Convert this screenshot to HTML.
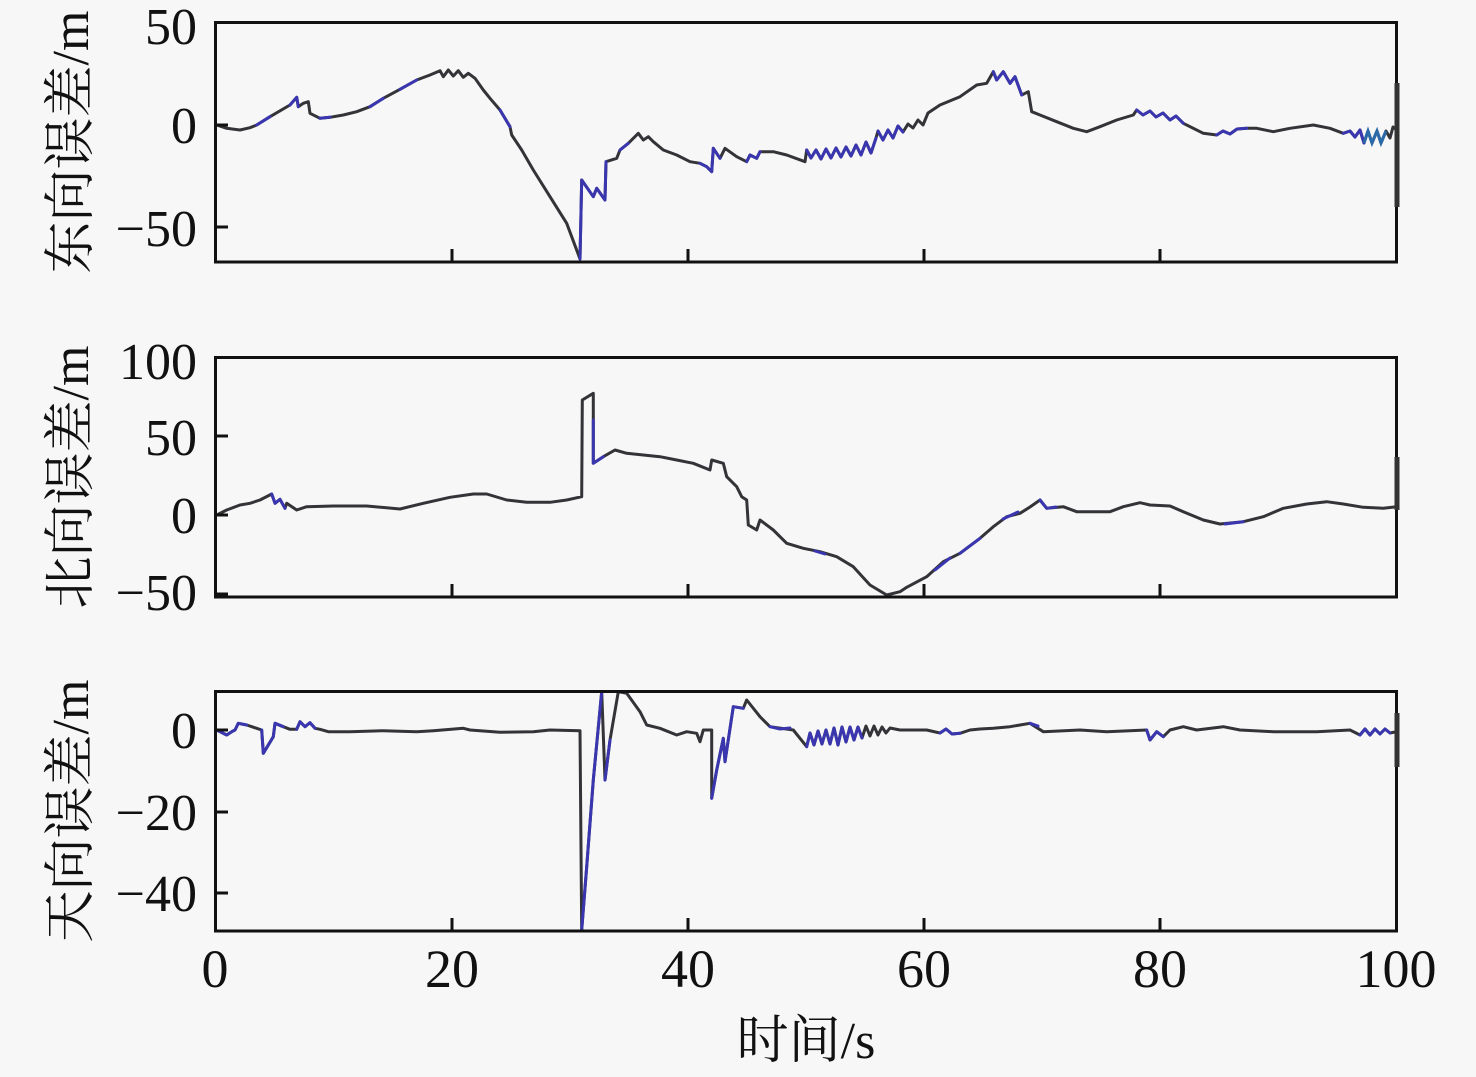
<!DOCTYPE html>
<html>
<head>
<meta charset="utf-8">
<style>
html,body{margin:0;padding:0;background:#f7f7f7;}
svg{display:block;}
.tk{font-family:"Liberation Serif","Noto Serif CJK SC",serif;font-size:52px;fill:#111;}
.xt{font-family:"Liberation Serif","Noto Serif CJK SC",serif;font-size:54px;fill:#111;}
.lab{font-family:"Liberation Serif","Noto Serif CJK SC","Noto Sans CJK SC",serif;font-size:52px;fill:#111;}
.d{fill:none;stroke:#333338;stroke-width:3;stroke-linejoin:round;stroke-linecap:round;}
.b{fill:none;stroke:#3a36b0;stroke-width:3;stroke-linejoin:round;stroke-linecap:round;}
</style>
</head>
<body>
<svg width="1476" height="1077" viewBox="0 0 1476 1077" xmlns="http://www.w3.org/2000/svg">
<rect width="1476" height="1077" fill="#f7f7f7"/>

<!-- ===== Plot 1 ===== -->
<polyline class="d" points="216.7,125 226.7,128.3 240,130 250,127.7 256.7,125 270,116.7 290,105 296.7,97.3 298.3,106.7 303.3,103.3 308.3,101.7 310,113.3 320,118.3 330,117.3 343.3,115 356.7,111.7 370,106.7 383.3,98.3 400,89.3 416.7,80 430,75 440,70.7 443.3,76.7 448.3,70 453.3,76 458.3,70.7 463.3,77.3 468.3,73.3 475,78.3 483.3,90 490,98.3 500,110 510,126.7 511.7,135 521.7,150 533.3,170 550,196.7 566.7,223.3 580,259 581.7,180 593.3,196.7 596.7,188.3 605,200 606,161.7 616.7,158.3 620,150 628.3,143.3 638.3,133.3 643.3,140 648.3,136.7 653.3,141.7 663.3,150 676.7,155 690,161.7 700,163.3 706.7,166.7 711.7,171.7 713.3,148.3 720,158.3 725,148.3 736.7,156.7 746.7,161.7 750,155 756.7,158.3 760,151.7 773.3,151.7 786.7,155 805,161.7 806.7,150 811,158 816,150 821,159 826,149 831,158 836,148 841,157 846,147 851,156 856,145 861,155 866,142 871,153 876,138 878,131 883,140 888,130 893,138 898,126 903,132 908,124 913,128 918,120 923,125 928,113 940,105 960,96.7 976.7,85 986.7,83.3 993.3,71.7 996.7,80 1003.3,71.7 1010,83.3 1015,76.7 1021.7,95 1028.3,91.7 1031.7,111.7 1040,115 1056.7,121.7 1073.3,128.3 1086.7,131.7 1100,126.7 1116.7,120 1133.3,115 1136.7,110 1143,115 1150,111 1156,117 1163,113 1170,120 1176,116 1183.3,123.3 1203.3,133.3 1216.7,135 1223,131 1230,134 1237,129 1246.7,128.3 1256.7,128.3 1273.3,131.7 1290,128.3 1313.3,125 1330,128.3 1343.3,133.3 1350,131 1355,137 1360,130 1364,143 1368,131 1372,143 1377,131 1381,143 1386,131 1390,138 1393,127 1397,130"/>
<polyline class="b" points="256.7,125 270,116.7"/>
<polyline class="b" points="290,105 296.7,97.3 298.3,106.7"/>
<polyline class="b" points="320,118.3 330,117.3"/>
<polyline class="b" points="370,106.7 383.3,98.3"/>
<polyline class="b" points="400,89.3 416.7,80"/>
<polyline class="b" points="500,110 510,126.7"/>
<polyline class="b" points="580,259 581.7,180 593.3,196.7 596.7,188.3 605,200 606,161.7"/>
<polyline class="b" points="620,150 628.3,143.3"/>
<polyline class="b" points="700,163.3 706.7,166.7 711.7,171.7 713.3,148.3 720,158.3"/>
<polyline class="b" points="746.7,161.7 750,155 756.7,158.3 760,151.7"/>
<polyline class="b" points="806.7,150 811,158 816,150 821,159 826,149 831,158 836,148 841,157 846,147 851,156 856,145 861,155 866,142 871,153 876,138"/>
<polyline class="b" points="878,131 883,140 888,130 893,138 898,126 903,132"/>
<polyline class="b" points="993.3,71.7 996.7,80 1003.3,71.7 1010,83.3 1015,76.7 1021.7,95"/>
<polyline class="b" points="1136.7,110 1143,115 1150,111 1156,117 1163,113 1170,120 1176,116 1183.3,123.3"/>
<polyline class="b" points="1216.7,135 1223,131 1230,134 1237,129 1246.7,128.3"/>
<polyline class="b" points="1343.3,133.3 1350,131 1355,137 1360,130 1364,143"/>
<polyline points="1364,143 1368,131 1372,143 1377,131 1381,143 1386,131" fill="none" stroke="#2a6aa8" stroke-width="3"/>
<!-- frame -->
<rect x="215.5" y="22.5" width="1181" height="239.5" fill="none" stroke="#111" stroke-width="3"/>
<line x1="1397" y1="83" x2="1397" y2="207" stroke="#333" stroke-width="5"/>
<!-- ticks -->
<g stroke="#111" stroke-width="3">
<line x1="216" y1="125" x2="228" y2="125"/>
<line x1="216" y1="227" x2="228" y2="227"/>
<line x1="452" y1="261" x2="452" y2="249"/>
<line x1="688" y1="261" x2="688" y2="249"/>
<line x1="924" y1="261" x2="924" y2="249"/>
<line x1="1160" y1="261" x2="1160" y2="249"/>
</g>
<g class="tk" text-anchor="end">
<text x="197" y="44">50</text>
<text x="197" y="143">0</text>
<text x="197" y="246">−50</text>
</g>
<text class="lab" transform="translate(88,142) rotate(-90)" text-anchor="middle">东向误差/m</text>

<!-- ===== Plot 2 ===== -->
<polyline class="d" points="216.7,515 226.7,510 240,505 250,503.3 260,500 271.7,494 275,503.3 280,499.3 285,508.3 286.7,503.3 296.7,510 306.7,506.7 333.3,506 366.7,506 400,509 423.3,503.3 450,497.3 473.3,494 486.7,494 506.7,500 526.7,502.3 550,502.3 566.7,500 581.7,496.7 582.3,400 593.3,393.3 593.3,463.3 603.3,456.7 615,450 626.7,453.3 643.3,455 660,456.7 676.7,460 693.3,463.3 710,470 711.7,460 723.3,463.3 726.7,476.7 736.7,486.7 741.7,496.7 746.7,500 748.3,525 756.7,530 760,520 773.3,530 786.7,543.3 803.3,548.3 820,551.7 836.7,556.7 853.3,566.7 870,585 886.7,595 900,591.7 906.7,587.3 926.7,576.7 943.3,561.7 960,553.3 980,538.3 993.3,526.7 1006.7,516.7 1020,513.3 1030,507 1040,500 1046.7,508.3 1063.3,506.7 1076.7,511.7 1110,511.7 1123.3,506.7 1140,502.7 1150,505 1170,506 1183.3,511.7 1203.3,520 1220,524 1243.3,521.7 1263.3,516.7 1283.3,508.3 1306.7,504 1326.7,501.7 1343.3,504 1363.3,507.3 1383.3,508.3 1396.7,506.7"/>
<polyline class="b" points="271.7,494 275,503.3 280,499.3 285,508.3"/>
<polyline class="b" points="593.3,420 593.3,463.3 603.3,456.7"/>
<polyline class="b" points="815,551 825,554"/>
<polyline class="b" points="935,570 950,558"/>
<polyline class="b" points="960,553.3 980,538.3"/>
<polyline class="b" points="1003,519 1018,512"/>
<polyline class="b" points="1040,500 1046.7,508.3 1056,507"/>
<polyline class="b" points="1225,524 1243.3,521.7"/>
<rect x="215.5" y="357.5" width="1181" height="239.5" fill="none" stroke="#111" stroke-width="3"/>
<line x1="1397" y1="457" x2="1397" y2="510" stroke="#333" stroke-width="5"/>
<g stroke="#111" stroke-width="3">
<line x1="216" y1="436" x2="228" y2="436"/>
<line x1="216" y1="515" x2="228" y2="515"/>
<line x1="216" y1="594" x2="228" y2="594"/>
<line x1="452" y1="596" x2="452" y2="584"/>
<line x1="688" y1="596" x2="688" y2="584"/>
<line x1="924" y1="596" x2="924" y2="584"/>
<line x1="1160" y1="596" x2="1160" y2="584"/>
</g>
<g class="tk" text-anchor="end">
<text x="197" y="379">100</text>
<text x="197" y="455">50</text>
<text x="197" y="533">0</text>
<text x="197" y="610">−50</text>
</g>
<text class="lab" transform="translate(88,477) rotate(-90)" text-anchor="middle">北向误差/m</text>

<!-- ===== Plot 3 ===== -->
<polyline class="d" points="216.7,730 226.7,735 231.7,731.7 235,730 238.3,723.3 246.7,725 256.7,728.3 261.7,730 263.3,753.3 273.3,736.7 275,723.3 283.3,726.7 290,729.3 296.7,729.3 300,721.7 305,726.7 310,722.7 315,728.3 320,729.3 328.3,731.7 350,731.7 383.3,730.7 416.7,731.7 433.3,730.7 463.3,728.3 470,730 500,732.3 533.3,731.7 550,730 580,730.7 581.7,930 586.7,866.7 593.3,780 601.7,691.7 605,780 610,740 618.3,691.7 626.7,693.3 640,711.7 646.7,725 660,728.3 676.7,735 686.7,731.7 696.7,733.3 700,741.7 703.3,730 711.7,730 711.7,798.3 716.7,770 723.3,738.3 725,761.7 733.3,706.7 743.3,708.3 746.7,700 760,716.7 770,726.7 793.3,730 806.7,746.7 810,733 814,745 818,731 822,744 826,730 830,744 834,728 838,745 842,727 846,742 850,727 854,740 858,727 862,738 866,726 870,736 874,726 878,735 882,727 886,733 890,728 900,730 926.7,730 940,733 946,729 952,734 960,733.3 970,730 980,729 993.3,728.3 1010,726.7 1030,723.3 1043.3,731.7 1080,730 1106.7,731.7 1146.7,730 1150,740 1156.7,731.7 1163.3,736.7 1170,730 1183.3,726.7 1196.7,730 1223.3,726.7 1240,730 1273.3,731.7 1316.7,731.7 1350,730 1360,735 1365,729 1370,735 1375,729 1380,734 1385,729 1390,733 1396.7,731.7"/>
<polyline class="b" points="216.7,730 226.7,735 231.7,731.7 235,730 238.3,723.3 246.7,725"/>
<polyline class="b" points="261.7,730 263.3,753.3 273.3,736.7 275,723.3 283.3,726.7"/>
<polyline class="b" points="296.7,729.3 300,721.7 305,726.7 310,722.7 315,728.3"/>
<polyline class="b" points="581.7,930 586.7,866.7 593.3,780 601.7,691.7"/>
<polyline class="b" points="605,780 610,740"/>
<polyline class="b" points="711.7,798.3 716.7,770 723.3,738.3 725,761.7 733.3,706.7 743.3,708.3"/>
<polyline class="b" points="770,726.7 780,729 790,728"/>
<polyline class="b" points="806.7,746.7 810,733 814,745 818,731 822,744 826,730 830,744 834,728 838,745 842,727 846,742 850,727 854,740 858,727 862,738"/>
<polyline class="b" points="940,733 946,729 952,734 960,733.3"/>
<polyline class="b" points="1030,723.3 1038,726"/>
<polyline class="b" points="1146.7,730 1150,740 1156.7,731.7 1163.3,736.7"/>
<polyline class="b" points="1360,735 1365,729 1370,735 1375,729 1380,734 1385,729 1390,733"/>
<rect x="215.5" y="691.5" width="1181" height="239.5" fill="none" stroke="#111" stroke-width="3"/>
<line x1="1397" y1="713" x2="1397" y2="767" stroke="#333" stroke-width="5"/>
<g stroke="#111" stroke-width="3">
<line x1="216" y1="730" x2="228" y2="730"/>
<line x1="216" y1="812" x2="228" y2="812"/>
<line x1="216" y1="893" x2="228" y2="893"/>
<line x1="452" y1="930" x2="452" y2="918"/>
<line x1="688" y1="930" x2="688" y2="918"/>
<line x1="924" y1="930" x2="924" y2="918"/>
<line x1="1160" y1="930" x2="1160" y2="918"/>
</g>
<g class="tk" text-anchor="end">
<text x="197" y="748">0</text>
<text x="197" y="830">−20</text>
<text x="197" y="911">−40</text>
</g>
<text class="lab" transform="translate(88,811) rotate(-90)" text-anchor="middle">天向误差/m</text>

<!-- x tick labels -->
<g class="xt" text-anchor="middle">
<text x="215" y="987">0</text>
<text x="452" y="987">20</text>
<text x="688" y="987">40</text>
<text x="924" y="987">60</text>
<text x="1160" y="987">80</text>
<text x="1396" y="987">100</text>
</g>
<text class="lab" x="806" y="1058" text-anchor="middle">时间/s</text>
</svg>
</body>
</html>
